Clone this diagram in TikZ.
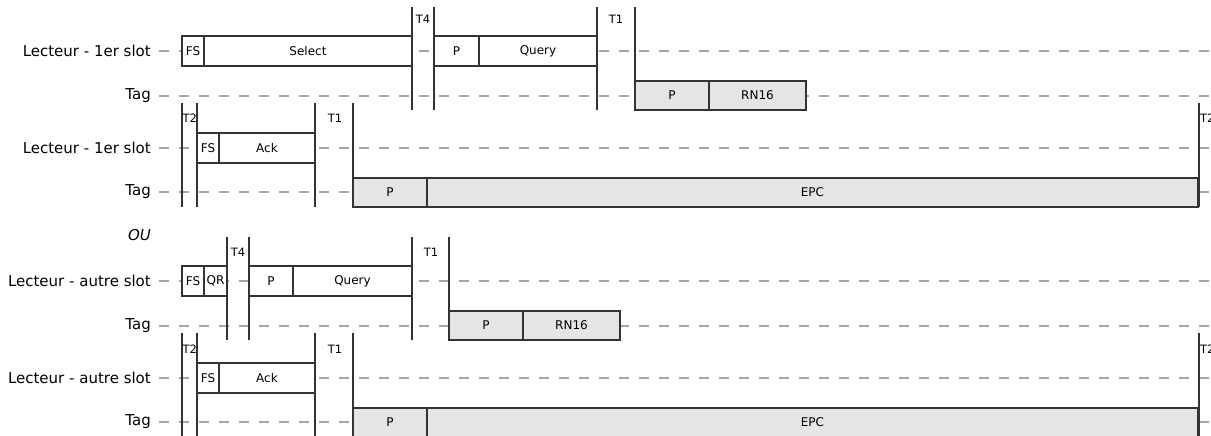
\documentclass[tikz,border=0pt]{standalone}
\usepackage{fontspec}
\setmainfont{DejaVu Sans}
\newcommand\timeline[4]{\coordinate (#1t) at (#2,#3); \coordinate (#1b) at (#2,#4); \draw[vline] (#1t) -- (#1b);}
\begin{document}
\begin{tikzpicture}[x=1pt,y=-1pt,
  lbox/.style={draw=black!80, fill=white, line width=1.1pt, inner sep=0pt, outer sep=0pt,
    anchor=north west, font=\fontsize{12}{14}\selectfont, minimum height=30},
  tbox/.style={lbox, fill=gray!20, minimum height=29},
  dashline/.style={draw=black!35, line width=1.6pt, dash pattern=on 10pt off 10pt},
  vline/.style={draw=black!80, line width=1.1pt},
  rowlab/.style={anchor=east, inner sep=0pt, font=\fontsize{15}{18}\selectfont},
  tlab/.style={inner sep=0pt, font=\fontsize{11.5}{13}\selectfont}]
\useasboundingbox (0,0) rectangle (1211,436);
\clip (0,0) rectangle (1211,436);

% ---------- row labels ----------
\node[rowlab] (r1l) at (151,51) {Lecteur - 1er slot};
\node[rowlab] (r1t) at (151,96) {Tag};
\node[rowlab] (r2l) at (151,148) {Lecteur - 1er slot};
\node[rowlab] (r2t) at (151,192) {Tag};
\node[rowlab, font=\fontsize{15}{18}\selectfont\itshape] (ou) at (151,235) {OU};
\node[rowlab] (r3l) at (151,281) {Lecteur - autre slot};
\node[rowlab] (r3t) at (151,326) {Tag};
\node[rowlab] (r4l) at (151,378) {Lecteur - autre slot};
\node[rowlab] (r4t) at (151,422) {Tag};

% ---------- dashed time axes ----------
\foreach \n/\y in {r1l/51, r1t/96, r2l/148, r2t/192, r3l/281, r3t/326, r4l/378, r4t/422}{
  \coordinate (\n s) at (159,\y);
  \coordinate (\n e) at (1215,\y);
  \draw[dashline] (\n s) -- (\n e);
}

% ---------- block 1 ----------
\timeline{v11}{412}{7}{110}
\timeline{v12}{434}{7}{110}
\timeline{v13}{597}{7}{110}
\timeline{v14}{635}{7}{81}
\node[tlab] (t41) at (423,19) {T4};
\node[tlab] (t11) at (616,19) {T1};
\node[lbox, minimum width=22] (fs1) at (182,36) {FS};
\node[lbox, minimum width=208] (sel1) at (204,36) {Select};
\node[lbox, minimum width=45] (p1) at (434,36) {P};
\node[lbox, minimum width=118] (q1) at (479,36) {Query};
\node[tbox, minimum width=74] (tp1) at (635,81) {P};
\node[tbox, minimum width=97] (rn1) at (709,81) {RN16};

% ---------- block 2 ----------
\timeline{v21}{182}{103}{207}
\timeline{v22}{197}{103}{207}
\timeline{v23}{315}{103}{207}
\timeline{v24}{353}{103}{178}
\timeline{v25}{1199}{103}{207}
\node[tlab, anchor=west] (t22) at (182.5,118) {T2};
\node[tlab] (t12) at (335,118) {T1};
\node[tlab, anchor=west] (t23) at (1200,118) {T2};
\node[lbox, minimum width=22] (fs2) at (197,133) {FS};
\node[lbox, minimum width=96] (ack2) at (219,133) {Ack};
\node[tbox, minimum width=74] (tp2) at (353,178) {P};
\node[tbox, minimum width=771] (epc2) at (427,178) {EPC};

% ---------- block 3 ----------
\timeline{v31}{227}{237}{340}
\timeline{v32}{249}{237}{340}
\timeline{v33}{412}{237}{340}
\timeline{v34}{449}{237}{311}
\node[tlab] (t43) at (238,252) {T4};
\node[tlab] (t13) at (431,252) {T1};
\node[lbox, minimum width=22] (fs3) at (182,266) {FS};
\node[lbox, minimum width=23] (qr3) at (204,266) {QR};
\node[lbox, minimum width=44] (p3) at (249,266) {P};
\node[lbox, minimum width=119] (q3) at (293,266) {Query};
\node[tbox, minimum width=74] (tp3) at (449,311) {P};
\node[tbox, minimum width=97] (rn3) at (523,311) {RN16};

% ---------- block 4 ----------
\timeline{v41}{182}{333}{440}
\timeline{v42}{197}{333}{440}
\timeline{v43}{315}{333}{440}
\timeline{v44}{353}{333}{408}
\timeline{v45}{1199}{333}{440}
\node[tlab, anchor=west] (t24) at (182.5,349) {T2};
\node[tlab] (t14) at (335,349) {T1};
\node[tlab, anchor=west] (t25) at (1200,349) {T2};
\node[lbox, minimum width=22] (fs4) at (197,363) {FS};
\node[lbox, minimum width=96] (ack4) at (219,363) {Ack};
\node[tbox, minimum width=74] (tp4) at (353,408) {P};
\node[tbox, minimum width=771] (epc4) at (427,408) {EPC};
\end{tikzpicture}
\end{document}
